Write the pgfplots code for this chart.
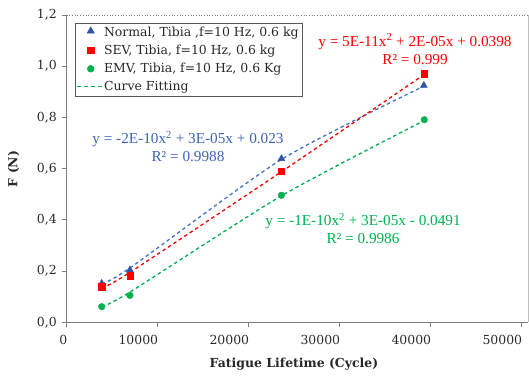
\documentclass[border=0pt]{standalone}
\usepackage{pgfplots}
\pgfplotsset{compat=1.18}
\usepackage{fontspec}
\setmainfont{DejaVu Serif}
\newfontfamily\eqfont{Liberation Serif}
\definecolor{bluM}{RGB}{47,84,160}
\definecolor{bluL}{RGB}{68,114,196}
\definecolor{bluT}{RGB}{62,100,178}
\definecolor{redM}{RGB}{255,0,0}
\definecolor{grnM}{RGB}{0,176,80}
\definecolor{axgray}{RGB}{125,125,125}
\definecolor{txt}{RGB}{40,40,40}
\pgfplotsset{
  markleg/.style={legend image code/.code={\draw[##1] plot coordinates {(0.47cm,0cm)};}},
  triLeg/.style={legend image code/.code={\draw[##1] plot coordinates {(0.47cm,0.05cm)};}},
  lineleg/.style={legend image code/.code={\draw[##1] (0cm,0cm) -- (0.85cm,0cm);}},
}
\begin{document}
\begin{tikzpicture}[x=1bp,y=1bp]
\useasboundingbox (0,0) rectangle (529,376);
\begin{axis}[
  at={(66.7bp,53.7bp)}, anchor=south west,
  scale only axis, width=461.3bp, height=307.3bp,
  xmin=0, xmax=50700, ymin=0, ymax=1.2,
  xtick={0,10000,20000,30000,40000,50000},
  ytick={0,0.2,0.4,0.6,0.8,1.0,1.2},
  scaled x ticks=false,
  axis x line*=bottom, axis y line*=left,
  axis line style={axgray, line width=0.9bp},
  tick align=outside, major tick length=5bp,
  tick style={axgray, line width=0.9bp},
  /pgf/number format/assume math mode=true,
  xticklabel style={font=\fontsize{12.5}{14}\selectfont, text=txt, anchor=north east, xshift=4bp, yshift=-4bp,
    /pgf/number format/1000 sep={}},
  yticklabel style={font=\fontsize{12.5}{14}\selectfont, text=txt, xshift=-1.5bp,
    /pgf/number format/.cd, fixed, fixed zerofill, precision=1, use comma},
  xlabel={\textbf{Fatigue Lifetime (Cycle)}},
  ylabel={\textbf{F (N)}},
  xlabel style={font=\fontsize{12.5}{14}\selectfont, text=txt, at={(axis description cs:0.4927,-0.1357)}, anchor=center},
  ylabel style={font=\fontsize{12.5}{14}\selectfont, text=txt, at={(axis description cs:-0.115,0.499)}, anchor=center},
  clip=false,
  legend style={at={(axis description cs:0.018,0.975)}, anchor=north west,
    draw=black!65, line width=0.7bp, font=\fontsize{12.5}{14}\selectfont, text=txt,
    inner xsep=1.5bp, inner ysep=2bp, row sep=3.2bp, cells={anchor=west}},
  legend cell align=left,
]
% top and right border of the plot area
\draw[axgray, dotted, line width=0.7bp] (rel axis cs:0,1) -- (rel axis cs:1,1);
\draw[black!25, line width=0.6bp] (rel axis cs:1,0) -- (rel axis cs:1,1);

% fitted curves
\addplot[forget plot, bluL, dash pattern=on 3.5bp off 3bp, line width=1.3bp, smooth, tension=0.4]
  coordinates {(3850,0.150) (6950,0.212) (23600,0.636) (39250,0.922)};
\addplot[forget plot, redM, dash pattern=on 3.5bp off 3bp, line width=1.3bp, smooth, tension=0.4]
  coordinates {(3850,0.133) (6950,0.195) (23600,0.588) (39300,0.968)};
\addplot[forget plot, grnM, dash pattern=on 3.5bp off 3bp, line width=1.3bp, smooth, tension=0.4]
  coordinates {(3850,0.060) (6950,0.118) (23600,0.494) (39300,0.788)};

% data
\addplot[only marks, mark=triangle*, mark size=4bp, color=bluM, triLeg]
  coordinates {(3850,0.152) (6950,0.204) (23600,0.639) (39250,0.925)};
\addlegendentry{Normal, Tibia ,f=10 Hz, 0.6 kg}
\addplot[only marks, mark=square*, mark size=3.2bp, color=redM, markleg]
  coordinates {(3850,0.139) (6950,0.182) (23600,0.590) (39300,0.971)};
\addlegendentry{SEV, Tibia, f=10 Hz, 0.6 kg}
\addplot[only marks, mark=*, mark size=3.3bp, color=grnM, markleg]
  coordinates {(3850,0.061) (6950,0.105) (23600,0.496) (39300,0.791)};
\addlegendentry{EMV, Tibia, f=10 Hz, 0.6 Kg}
\addlegendimage{grnM, dash pattern=on 4bp off 3bp, line width=1.1bp, lineleg}
\addlegendentry{Curve Fitting}

% equations
\node[bluT, font=\eqfont\fontsize{15.3}{18}\selectfont, align=center] at (axis cs:13332,0.6868)
  {y = -2E-10x\textsuperscript{2} + 3E-05x + 0.023\\R² = 0.9988};
\node[redM, font=\eqfont\fontsize{15.3}{18}\selectfont, align=center] at (axis cs:38280,1.0667)
  {y = 5E-11x\textsuperscript{2} + 2E-05x + 0.0398\\R² = 0.999};
\node[grnM, font=\eqfont\fontsize{15.3}{18}\selectfont, align=center] at (axis cs:32570,0.3657)
  {y = -1E-10x\textsuperscript{2} + 3E-05x - 0.0491\\R² = 0.9986};
\end{axis}
\end{tikzpicture}
\end{document}
